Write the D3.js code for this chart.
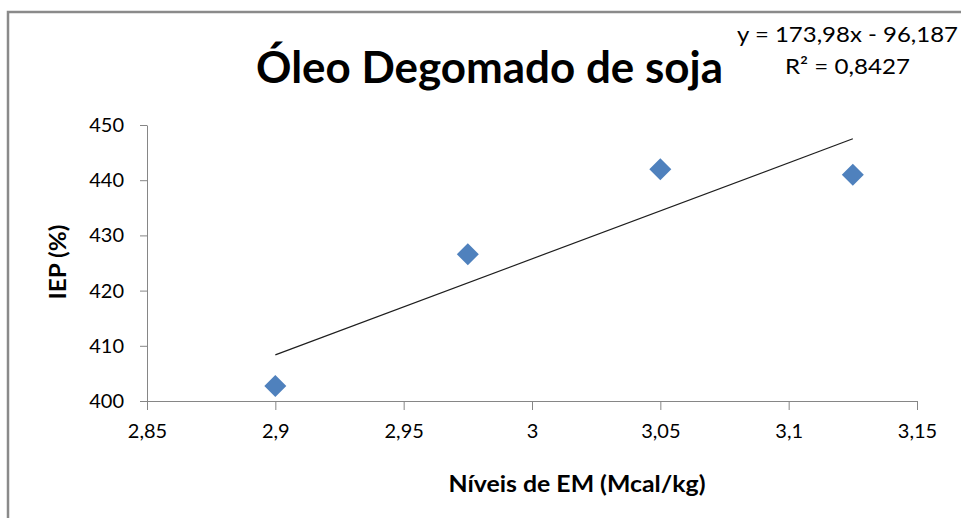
<!DOCTYPE html>
<html><head><meta charset="utf-8">
<script src="https://cdn.jsdelivr.net/npm/d3@7/dist/d3.min.js"></script>
<style>body{margin:0;background:#fff}svg{display:block}</style>
</head><body>
<svg id="c" width="961" height="518"></svg>
<script>
// ---- data ----
const emLevels = [2.9, 2.975, 3.05, 3.125];
const iepValues = [402.7, 426.6, 442.0, 441.0];
const xTickValues = [2.85, 2.9, 2.95, 3, 3.05, 3.1, 3.15];
const yTickValues = [400, 410, 420, 430, 440, 450];
const trendSlope = 173.98;
const trendIntercept = -96.187;
const titleText = "Óleo Degomado de soja";
const equationText = "y = 173,98x - 96,187";
const r2Text = "R² = 0,8427";
const xTitle = "Níveis de EM (Mcal/kg)";
const yTitle = "IEP (%)";

const svg = d3.select("#c");
const font = "Lato, 'Open Sans', sans-serif";
const axisColor = "#868686";

// frame (top + left edges visible)
svg.append("path").attr("d", "M8,518 L8,12 L961,12")
  .attr("fill", "none").attr("stroke", "#8a8a8a").attr("stroke-width", 2.5);

const x = d3.scaleLinear().domain([2.85, 3.15]).range([147, 917]);
const y = d3.scaleLinear().domain([400, 450]).range([401, 125]);
const fmt = d => String(d).replace(".", ",");

// y axis
const gy = svg.append("g").attr("transform", "translate(147,0)")
  .call(d3.axisLeft(y).tickValues(yTickValues).tickSize(7).tickSizeOuter(0).tickPadding(16).tickFormat(fmt));
// x axis
const gx = svg.append("g").attr("transform", "translate(0,401)")
  .call(d3.axisBottom(x).tickValues(xTickValues).tickSize(9).tickSizeOuter(0).tickPadding(14).tickFormat(fmt));

[gx, gy].forEach(g => {
  g.select(".domain").attr("stroke", axisColor).attr("stroke-width", 1);
  g.selectAll(".tick line").attr("stroke", axisColor).attr("stroke-width", 1);
  g.selectAll(".tick text").attr("fill", "#000").style("font-family", font).style("font-size", "20px");
});

// trendline
const trendX = [d3.min(emLevels), d3.max(emLevels)];
svg.append("line")
  .attr("x1", x(trendX[0])).attr("y1", y(trendSlope * trendX[0] + trendIntercept))
  .attr("x2", x(trendX[1])).attr("y2", y(trendSlope * trendX[1] + trendIntercept))
  .attr("stroke", "#1e1e1e").attr("stroke-width", 1.2);

// points
const pts = emLevels.map((v, i) => ({x: v, y: iepValues[i]}));
svg.append("g").selectAll("path").data(pts).join("path")
  .attr("d", d3.symbol(d3.symbolSquare, 242))
  .attr("transform", d => `translate(${x(d.x)},${y(d.y)}) rotate(45)`)
  .attr("fill", "#4F81BD");

// title
svg.append("text").attr("x", 256).attr("y", 83)
  .attr("textLength", 467).attr("lengthAdjust", "spacingAndGlyphs")
  .style("font-family", font).style("font-weight", "bold").style("font-size", "43px")
  .text(titleText);

// equation
svg.append("text").attr("x", 737).attr("y", 42)
  .attr("textLength", 221).attr("lengthAdjust", "spacingAndGlyphs")
  .style("font-family", font).style("font-size", "22px").text(equationText);
svg.append("text").attr("x", 785).attr("y", 74)
  .attr("textLength", 125).attr("lengthAdjust", "spacingAndGlyphs")
  .style("font-family", font).style("font-size", "22px").text(r2Text);

// axis titles
svg.append("text").attr("x", 577).attr("y", 492).attr("text-anchor", "middle")
  .attr("textLength", 257).attr("lengthAdjust", "spacingAndGlyphs")
  .style("font-family", font).style("font-weight", "bold").style("font-size", "23px")
  .text(xTitle);
svg.append("text").attr("transform", "translate(66,262) rotate(-90)").attr("text-anchor", "middle")
  .attr("textLength", 75).attr("lengthAdjust", "spacingAndGlyphs")
  .style("font-family", font).style("font-weight", "bold").style("font-size", "23px")
  .text(yTitle);
</script>
</body></html>
